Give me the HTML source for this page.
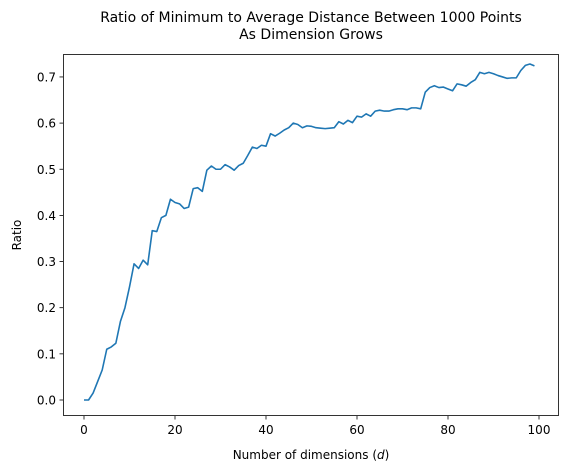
<!DOCTYPE html>
<html><head><meta charset="utf-8"><style>
body{margin:0;background:#fff}
svg{display:block;font-family:"DejaVu Sans","Liberation Sans",sans-serif}
</style></head><body>
<svg id="c" width="570" height="472" viewBox="0 0 570 472">
<text x="311" y="22" text-anchor="middle" font-size="14">Ratio of Minimum to Average Distance Between 1000 Points</text>
<text x="311" y="39" text-anchor="middle" font-size="14">As Dimension Grows</text>
<text x="311" y="459" text-anchor="middle" font-size="12">Number of dimensions (<tspan font-style="italic">d</tspan>)</text>
<text transform="translate(21,235) rotate(-90)" text-anchor="middle" font-size="12">Ratio</text>
<g id="ticks"></g>
<path id="line" fill="none" stroke="#1f77b4" stroke-width="1.6" stroke-linejoin="round"></path>
<rect x="63.5" y="54.5" width="495" height="361" fill="none" stroke="#000" stroke-width="0.8"/>
</svg>
<script>
const xTicks=[0,20,40,60,80,100];
const yTicks=[0.0,0.1,0.2,0.3,0.4,0.5,0.6,0.7];
const ratios=[0,0,0.015,0.04,0.065,0.11,0.115,0.123,0.17,0.2,0.245,0.295,0.285,0.303,0.293,0.367,0.365,0.395,0.4,0.435,0.428,0.425,0.415,0.418,0.458,0.46,0.452,0.498,0.507,0.5,0.5,0.51,0.505,0.498,0.508,0.513,0.53,0.548,0.545,0.552,0.55,0.577,0.572,0.578,0.585,0.59,0.6,0.597,0.59,0.594,0.593,0.59,0.589,0.588,0.589,0.59,0.603,0.598,0.606,0.601,0.615,0.613,0.62,0.615,0.626,0.628,0.626,0.626,0.629,0.631,0.631,0.629,0.633,0.633,0.631,0.667,0.677,0.681,0.677,0.678,0.674,0.67,0.685,0.683,0.68,0.688,0.694,0.71,0.707,0.71,0.707,0.703,0.7,0.697,0.698,0.698,0.714,0.725,0.728,0.724];
const X=v=>84+v*4.55;
const Y=v=>400-v*461.5;
const NS="http://www.w3.org/2000/svg";
const g=document.getElementById('ticks');
xTicks.forEach(t=>{
  const l=document.createElementNS(NS,'line');
  l.setAttribute('x1',X(t));l.setAttribute('x2',X(t));l.setAttribute('y1',416);l.setAttribute('y2',419.5);l.setAttribute('stroke','#000');l.setAttribute('stroke-width','0.8');
  
  
  g.appendChild(l);
  const tx=document.createElementNS(NS,'text');
  tx.setAttribute('x',X(t));tx.setAttribute('y',434);tx.setAttribute('text-anchor','middle');tx.setAttribute('font-size','12');
  tx.textContent=t;
  
  
  g.appendChild(tx);
});
yTicks.forEach(t=>{
  const l=document.createElementNS(NS,'line');
  l.setAttribute('x1',59.5);l.setAttribute('x2',63);l.setAttribute('y1',Y(t));l.setAttribute('y2',Y(t));l.setAttribute('stroke','#000');l.setAttribute('stroke-width','0.8');
  
  
  g.appendChild(l);
  const tx=document.createElementNS(NS,'text');
  tx.setAttribute('x',56);tx.setAttribute('y',Y(t)+4.5);tx.setAttribute('text-anchor','end');tx.setAttribute('font-size','12');
  tx.textContent=t.toFixed(1);
  
  
  g.appendChild(tx);
});
document.getElementById('line').setAttribute('d',ratios.map((v,i)=>(i?'L':'M')+X(i).toFixed(2)+' '+Y(v).toFixed(2)).join(' '));
</script>
</body></html>
